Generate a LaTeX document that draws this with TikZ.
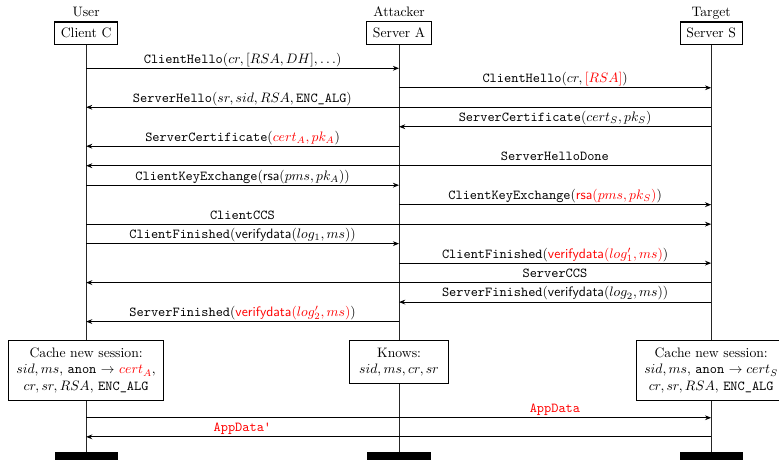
\documentclass[tikz,border=0pt]{standalone}
\usepackage{amsmath}
\usepackage{xcolor}
\usetikzlibrary{arrows.meta,positioning}

\begin{document}
\begin{tikzpicture}[>={Stealth[length=4.5pt,width=3.5pt]},
  party/.style={rectangle, draw, thick, inner sep=4.5pt},
  role/.style={text height=1.6ex, text depth=0pt},
  note/.style={rectangle, draw, thick, align=center, anchor=north,
               inner sep=5.5pt, fill=white},
  bar/.style={rectangle, fill=black, inner sep=0pt, minimum width=1.62cm,
              minimum height=0.3cm, anchor=north},
  life/.style={thick, draw=black!85},
  msg/.style={thick, ->},
  lbl/.style={above, text depth=0pt}]
  \useasboundingbox (0,0) rectangle (19.99,-11.78);
  % Parties
  \node[party] (c) at (2.21,-0.85) {Client C};
  \node[party] (a) at (10.24,-0.85) {Server A};
  \node[party] (s) at (18.25,-0.85) {Server S};
  \node[role, above=0pt of c] (cuser) {User};
  \node[role, above=0pt of a] (aatt) {Attacker};
  \node[role, above=0pt of s] (starget) {Target};
  % Message rows
  \foreach \i in {1,...,14}
    \coordinate (r\i) at (0,{-1.752-0.5*(\i-1)});
  \coordinate (r15) at (0,-10.72);
  \coordinate (r16) at (0,-11.21);
  % Notes and end bars
  \node[note] (cnote) at (2.21,-8.72) {Cache new session:\\
    $sid, ms$, \texttt{anon} $\rightarrow$ \textcolor{red}{$cert_A$},\\
    $cr, sr, RSA$, \texttt{ENC\_ALG}};
  \node[note, inner xsep=7pt] (anote) at (10.24,-8.72) {Knows:\\ $sid, ms, cr, sr$};
  \node[note] (snote) at (18.25,-8.72) {Cache new session:\\
    $sid, ms$, \texttt{anon} $\rightarrow cert_S$\\
    $cr, sr, RSA$, \texttt{ENC\_ALG}};
  \node[bar] (cend) at (2.21,-11.6) {};
  \node[bar] (aend) at (10.24,-11.6) {};
  \node[bar] (send) at (18.25,-11.6) {};
  % Lifelines
  \draw[life] (c) -- (cnote);
  \draw[life] (cnote) -- (cend);
  \draw[life] (a) -- (anote);
  \draw[life] (anote) -- (aend);
  \draw[life] (s) -- (snote);
  \draw[life] (snote) -- (send);
  % Handshake
  \draw[msg] (c |- r1) -- node[lbl] {\texttt{ClientHello}$(cr, [RSA, DH], \ldots)$} (a |- r1);
  \draw[msg] (a |- r2) -- node[lbl] {\texttt{ClientHello}$(cr, \textcolor{red}{[RSA]})$} (s |- r2);
  \draw[msg] (s |- r3) -- node[lbl, pos=0.75] {\texttt{ServerHello}$(sr, sid, RSA, \texttt{ENC\_ALG})$} (c |- r3);
  \draw[msg] (s |- r4) -- node[lbl] {\texttt{ServerCertificate}$(cert_S, pk_S)$} (a |- r4);
  \draw[msg] (a |- r5) -- node[lbl] {\texttt{ServerCertificate}(\textcolor{red}{$cert_A, pk_A$})} (c |- r5);
  \draw[msg] (s |- r6) -- node[lbl, pos=0.25] {\texttt{ServerHelloDone}} (c |- r6);
  \draw[msg] (c |- r7) -- node[lbl] {\texttt{ClientKeyExchange}(\textsf{rsa}$(pms, pk_A)$)} (a |- r7);
  \draw[msg] (a |- r8) -- node[lbl] {\texttt{ClientKeyExchange}(\textcolor{red}{\textsf{rsa}$(pms, pk_S)$})} (s |- r8);
  \draw[msg] (c |- r9) -- node[lbl, pos=0.25] {\texttt{ClientCCS}} (s |- r9);
  \draw[msg] (c |- r10) -- node[lbl] {\texttt{ClientFinished}(\textsf{verifydata}$(log_1, ms)$)} (a |- r10);
  \draw[msg] (a |- r11) -- node[lbl] {\texttt{ClientFinished}(\textcolor{red}{\textsf{verifydata}$(log'_1, ms)$})} (s |- r11);
  \draw[msg] (s |- r12) -- node[lbl, pos=0.25] {\texttt{ServerCCS}} (c |- r12);
  \draw[msg] (s |- r13) -- node[lbl] {\texttt{ServerFinished}(\textsf{verifydata}$(log_2, ms)$)} (a |- r13);
  \draw[msg] (a |- r14) -- node[lbl] {\texttt{ServerFinished}(\textcolor{red}{\textsf{verifydata}$(log'_2, ms)$})} (c |- r14);
  % Application data
  \draw[msg] (c |- r15) -- node[lbl, pos=0.75] {\textcolor{red}{\texttt{AppData}}} (s |- r15);
  \draw[msg] (s |- r16) -- node[lbl, pos=0.75] {\textcolor{red}{\texttt{AppData'}}} (c |- r16);
\end{tikzpicture}
\end{document}
